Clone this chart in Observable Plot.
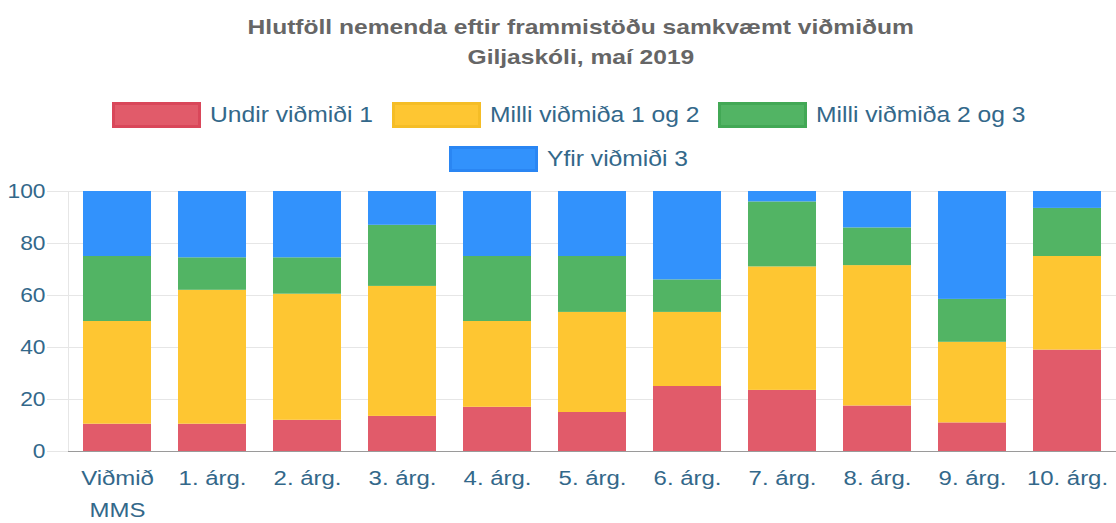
<!DOCTYPE html>
<html>
<head>
<meta charset="utf-8">
<script src="https://cdn.jsdelivr.net/npm/d3@7"></script>
<script src="https://cdn.jsdelivr.net/npm/@observablehq/plot@0.6"></script>
<style>
  html, body { margin: 0; padding: 0; background: #fff; }
  body { width: 1116px; height: 523px; position: relative; overflow: hidden; font-family: "Liberation Sans", Arial, Helvetica, sans-serif; }
  .title { position: absolute; left: 23px; width: 1116px; text-align: center; color: #666; font-weight: bold; font-size: 21px; line-height: 1; }
  .title span { display: inline-block; transform: scaleX(1.17); transform-origin: center; }
  .legrow { position: absolute; left: 11px; width: 1116px; display: flex; justify-content: center; align-items: center; gap: 19px; }
  .item { display: flex; align-items: center; gap: 9px; color: #33688a; font-size: 22px; line-height: 1; }
  .box { width: 83px; height: 20px; border-width: 3px; border-style: solid; }
  .lbl { display: inline-block; overflow: visible; white-space: nowrap; }
  .lbl span { display: inline-block; transform-origin: left center; }
  #chart { position: absolute; left: 0; top: 175px; }
</style>
</head>
<body>
<div class="title" id="t1" style="top:16px"></div>
<div class="title" id="t2" style="top:46px"></div>
<div class="legrow" id="leg1" style="top:102px"></div>
<div class="legrow" id="leg2" style="top:146px"></div>
<div id="chart"></div>
<script>
const titleLines = ["Hlutföll nemenda eftir frammistöðu samkvæmt viðmiðum", "Giljaskóli, maí 2019"];
const categories = ["Viðmið MMS", "1. árg.", "2. árg.", "3. árg.", "4. árg.", "5. árg.", "6. árg.", "7. árg.", "8. árg.", "9. árg.", "10. árg."];
const categoryLabels = ["Viðmið\nMMS", "1. árg.", "2. árg.", "3. árg.", "4. árg.", "5. árg.", "6. árg.", "7. árg.", "8. árg.", "9. árg.", "10. árg."];
const seriesNames = ["Undir viðmiði 1", "Milli viðmiða 1 og 2", "Milli viðmiða 2 og 3", "Yfir viðmiði 3"];
const undir1   = [10.5, 10.5, 12,   13.5, 17, 15,   25,   23.5, 17.5, 11,   39];
const milli12  = [39.5, 51.5, 48.5, 50,   33, 38.5, 28.5, 47.5, 54,   31,   36];
const milli23  = [25,   12.5, 14,   23.5, 25, 21.5, 12.5, 25,   14.5, 16.5, 18.5];
const yfir3    = [25,   25.5, 25.5, 13,   25, 25,   34,   4,    14,   41.5, 6.5];
const yTicks = [0, 20, 40, 60, 80, 100];
const fillColors = ["#e15b6a", "#fec632", "#52b464", "#3292fc"];
const borderColors = ["#d9475a", "#f5bd26", "#42a855", "#2a86f3"];
const textStretch = 1.14;
const legendStretch = 1.12;

[["t1", 0], ["t2", 1]].forEach(([id, i]) => {
  const s = document.createElement("span");
  s.textContent = titleLines[i];
  document.getElementById(id).appendChild(s);
});

function legendItem(i) {
  const it = document.createElement("div");
  it.className = "item";
  const b = document.createElement("div");
  b.className = "box";
  b.style.background = fillColors[i];
  b.style.borderColor = borderColors[i];
  const wrap = document.createElement("div");
  wrap.className = "lbl";
  const s = document.createElement("span");
  s.textContent = seriesNames[i];
  wrap.appendChild(s);
  it.appendChild(b); it.appendChild(wrap);
  return it;
}
[0,1,2].forEach(i => document.getElementById("leg1").appendChild(legendItem(i)));
document.getElementById("leg2").appendChild(legendItem(3));
document.querySelectorAll(".lbl").forEach(w => {
  const s = w.firstChild;
  const wd = s.getBoundingClientRect().width;
  w.style.width = (wd * legendStretch) + "px";
  s.style.transform = `scaleX(${legendStretch})`;
});

const seriesValues = [undir1, milli12, milli23, yfir3];
const data = [];
categories.forEach((c, ci) => {
  seriesNames.forEach((s, si) => data.push({cat: c, series: s, value: seriesValues[si][ci]}));
});

const chart = Plot.plot({
  width: 1116,
  height: 348,
  marginLeft: 68,
  marginRight: 0,
  marginTop: 16,
  marginBottom: 72,
  style: {fontFamily: "'Liberation Sans', Arial, sans-serif", color: "#33688a", background: "#fff"},
  x: {domain: categories, paddingInner: 0.28, paddingOuter: 0.14, label: null},
  y: {domain: [0, 100], label: null},
  color: {domain: seriesNames, range: fillColors},
  marks: [
    Plot.gridY(yTicks, {stroke: "#e6e6e6", strokeOpacity: 1}),
    Plot.frame({anchor: "left", stroke: "#e6e6e6"}),
    Plot.barY(data, {x: "cat", y: "value", fill: "series", order: seriesNames, fillOpacity: 1}),
    Plot.axisY(yTicks, {tickSize: 21, tickPadding: 2, stroke: "#e6e6e6", strokeOpacity: 1, fontSize: 20, fill: "#33688a", label: null}),
    Plot.ruleY([0], {stroke: "#9a9a9a", strokeWidth: 1}),
    Plot.axisX({tickSize: 0, tickPadding: 11, fontSize: 21, fill: "#33688a", lineHeight: 1.52, tickFormat: d => categoryLabels[categories.indexOf(d)], label: null})
  ]
});
document.getElementById("chart").appendChild(chart);
chart.querySelectorAll('g[aria-label="x-axis tick label"] text, g[aria-label="y-axis tick label"] text').forEach(t => {
  const tr = t.getAttribute("transform") || "";
  t.setAttribute("transform", tr + ` scale(${textStretch},1)`);
});
</script>
</body>
</html>
